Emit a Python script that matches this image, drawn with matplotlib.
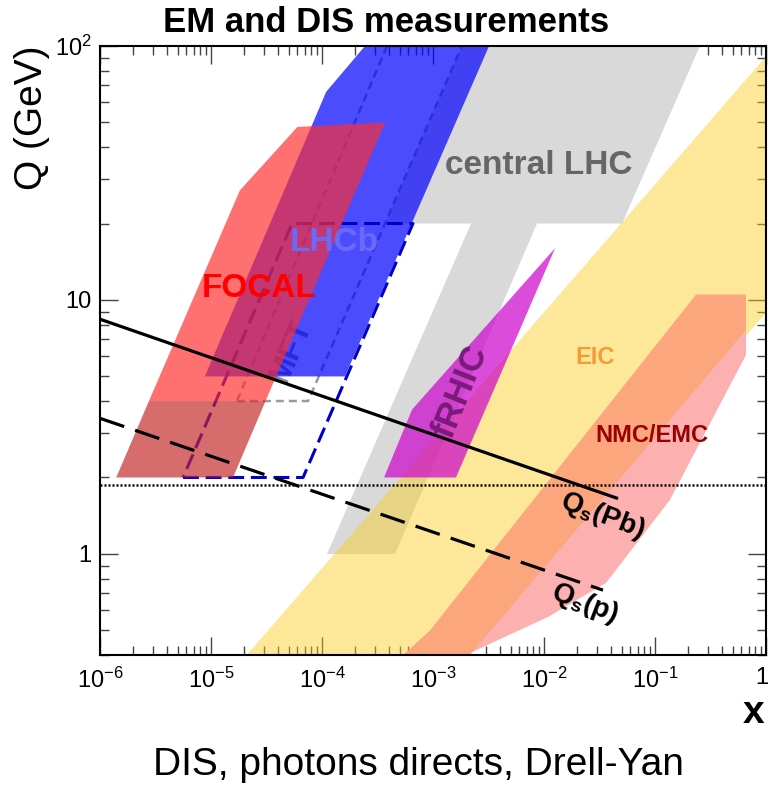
import matplotlib
matplotlib.use("Agg")
import matplotlib.pyplot as plt
from matplotlib.patches import Polygon
from matplotlib.ticker import FixedLocator, FixedFormatter
import matplotlib.transforms as mtransforms
import numpy as np

plt.rcParams['font.family'] = ['Liberation Sans', 'DejaVu Sans']
plt.rcParams['mathtext.fontset'] = 'custom'
plt.rcParams['mathtext.rm'] = 'Liberation Sans'
plt.rcParams['mathtext.it'] = 'Liberation Sans:italic'
plt.rcParams['mathtext.bf'] = 'Liberation Sans:bold'
plt.rcParams['mathtext.default'] = 'regular'

# ---- kinematic coverage regions (x, Q in GeV) ----
lhc_x = [3.7e-4, 1.82e-3, 0.254, 0.0505, 8.65e-3, 4.55e-4, 1.11e-4, 2.2e-3]
lhc_q = [20, 100, 100, 20, 20, 1, 1, 20]

mft_x = [1.71e-5, 7.5e-5, 1.82e-3, 3.85e-4]
mft_q = [4, 4, 100, 100]

lhcb_x = [8.8e-6, 1.09e-4, 2.44e-4, 3.2e-3, 1.61e-4]
lhcb_q = [5, 66, 100, 100, 5]

lhcb_box_x = [5.6e-6, 6.75e-5, 6.6e-4, 5.37e-5]
lhcb_box_q = [2, 2, 20, 20]

focal_x = [2.76e-6, 1.82e-5, 6.0e-5, 3.7e-4, 3.1e-5]
focal_q = [4, 27, 48, 50, 4]
focal_low_x = [1.4e-6, 2.76e-6, 3.1e-5, 1.58e-5]
focal_low_q = [2, 4, 4, 2]

eic_x = [2.1e-5, 1.0, 1.0, 2.0e-3]
eic_q = [0.4, 91, 8.9, 0.4]

frhic_x = [3.62e-4, 6.47e-4, 1.26e-2, 1.61e-3]
frhic_q = [2, 3.7, 16, 2]

band_x = [1.98e-3, 0.0109, 0.0362, 0.136, 0.66, 0.66]
band_q = [0.4, 0.565, 0.769, 1.63, 6.07, 7.6]

nmc_x = [5.4e-4, 9.4e-4, 0.234, 0.66, 0.66, 2.15e-3]
nmc_q = [0.4, 0.5, 10.5, 10.5, 7.6, 0.4]

# saturation scales
qs_pb_x = [1e-6, 0.045]
qs_pb_q = [8.4, 1.66]
qs_p_x = [1e-6, 0.034]
qs_p_q = [3.42, 0.72]
q_dotted = 1.87

x_ticks = [1e-6, 1e-5, 1e-4, 1e-3, 1e-2, 1e-1, 1]
x_tick_labels = [r'$10^{-6}$', r'$10^{-5}$', r'$10^{-4}$', r'$10^{-3}$',
                 r'$10^{-2}$', r'$10^{-1}$', '1']
y_ticks = [1, 10, 100]
y_tick_labels = ['1', '10', r'$10^{2}$']

fig = plt.figure(figsize=(7.69, 7.87), dpi=100)
ax = fig.add_axes([100 / 769, 132 / 787, 666 / 769, 609 / 787])
ax.set_xscale('log')
ax.set_yscale('log')
ax.set_xlim(1e-6, 1)
ax.set_ylim(0.4, 100)


def region(xs, qs, color, alpha=1.0, z=1):
    ax.add_patch(Polygon(np.column_stack([xs, qs]), closed=True,
                         facecolor=color, edgecolor='none', alpha=alpha,
                         zorder=z))


def outline(xs, qs, color, lw, dashes, z):
    xs = list(xs) + [xs[0]]
    qs = list(qs) + [qs[0]]
    ln, = ax.plot(xs, qs, color=color, lw=lw, zorder=z)
    ln.set_dashes(dashes)


region(lhc_x, lhc_q, '#d9d9d9', 1.0, 1.0)
outline(mft_x, mft_q, '#9a9a9a', 1.8, (3.2, 2.0), 1.1)
ax.text(0.287, 0.50, 'MFT', transform=ax.transAxes, rotation=67,
        fontsize=23, fontweight='bold', color='#8c8c8c',
        ha='center', va='center', zorder=1.15)
region(lhcb_x, lhcb_q, '#0000ff', 0.70, 1.2)
outline(lhcb_box_x, lhcb_box_q, '#0000c8', 2.2, (5.2, 2.2), 1.3)
region(focal_x, focal_q, '#ff2d2d', 0.68, 1.4)
region(focal_low_x, focal_low_q, '#c32727', 0.68, 1.4)
region(eic_x, eic_q, '#fbcc1d', 0.45, 1.5)
region(frhic_x, frhic_q, '#cc00cc', 0.70, 1.6)
region(band_x, band_q, '#fdb0b0', 1.0, 1.7)
region(nmc_x, nmc_q, '#fca67d', 1.0, 1.8)

ln, = ax.plot(qs_pb_x, qs_pb_q, color='black', lw=2.3, zorder=3)
ln, = ax.plot(qs_p_x, qs_p_q, color='black', lw=2.3, zorder=3)
ln.set_dashes((8, 3.6))
ln, = ax.plot([1e-6, 1], [q_dotted, q_dotted], color='black', lw=1.8,
              zorder=3)
ln.set_dashes((0.8, 0.8))

# labels on the plot
txt = dict(transform=ax.transAxes, ha='center', va='center', zorder=4,
           fontweight='bold')
ax.text(0.239, 0.601, 'FOCAL', color='#ff0000', fontsize=24, **txt)
ax.text(0.351, 0.678, 'LHCb', color='#6a6af8', fontsize=24, **txt)
ax.text(0.658, 0.803, 'central LHC', color='#666666', fontsize=24, **txt)
ax.text(0.542, 0.432, 'fRHIC', color='#7b1a7b', fontsize=25, rotation=68,
        **txt)
ax.text(0.743, 0.488, 'EIC', color='#f79a35', fontsize=17, **txt)
ax.text(0.829, 0.360, 'NMC/EMC', color='#990000', fontsize=17, **txt)
ax.text(0.755, 0.228, r'$\mathbf{Q_{s}(Pb)}$', color='black', fontsize=20,
        rotation=-21, **txt)
ax.text(0.728, 0.085, r'$\mathbf{Q_{s}(p)}$', color='black', fontsize=20,
        rotation=-21, **txt)

# axes styling
ax.set_axisbelow(True)
ax.xaxis.set_major_locator(FixedLocator(x_ticks))
ax.xaxis.set_major_formatter(FixedFormatter(x_tick_labels))
ax.yaxis.set_major_locator(FixedLocator(y_ticks))
ax.yaxis.set_major_formatter(FixedFormatter(y_tick_labels))
ax.xaxis.set_minor_locator(matplotlib.ticker.LogLocator(base=10, subs=np.arange(2, 10), numticks=20))
ax.yaxis.set_minor_locator(matplotlib.ticker.LogLocator(base=10, subs=np.arange(2, 10), numticks=20))
ax.xaxis.set_minor_formatter(matplotlib.ticker.NullFormatter())
ax.yaxis.set_minor_formatter(matplotlib.ticker.NullFormatter())
ax.tick_params(which='both', direction='in', top=True, right=True,
               color='#444444', width=1.0)
ax.tick_params(which='major', length=13, labelsize=17)
ax.tick_params(which='minor', length=6.5)
ax.tick_params(axis='x', which='major', pad=9)
ax.tick_params(axis='y', which='major', pad=6)
for s in ax.spines.values():
    s.set_linewidth(1.5)
    s.set_color('black')

# keep the last x label inside the canvas
fig.canvas.draw()
last = ax.get_xticklabels()[-1]
last.set_transform(last.get_transform() +
                   mtransforms.ScaledTranslation(-4 / 100, 0, fig.dpi_scale_trans))

fig.text(386 / 769, 1 - 22 / 787, 'EM and DIS measurements', ha='center',
         va='center', fontsize=25, fontweight='bold')
fig.text(32 / 769, 1 - 118 / 787, 'Q (GeV)', ha='center', va='center',
         rotation=90, fontsize=28)
fig.text(754 / 769, 1 - 713 / 787, 'x', ha='center', va='center',
         fontsize=28, fontweight='bold')
fig.text(418 / 769, 1 - 765 / 787, 'DIS, photons directs, Drell-Yan',
         ha='center', va='center', fontsize=28)

fig.savefig('out.png', dpi=100)
